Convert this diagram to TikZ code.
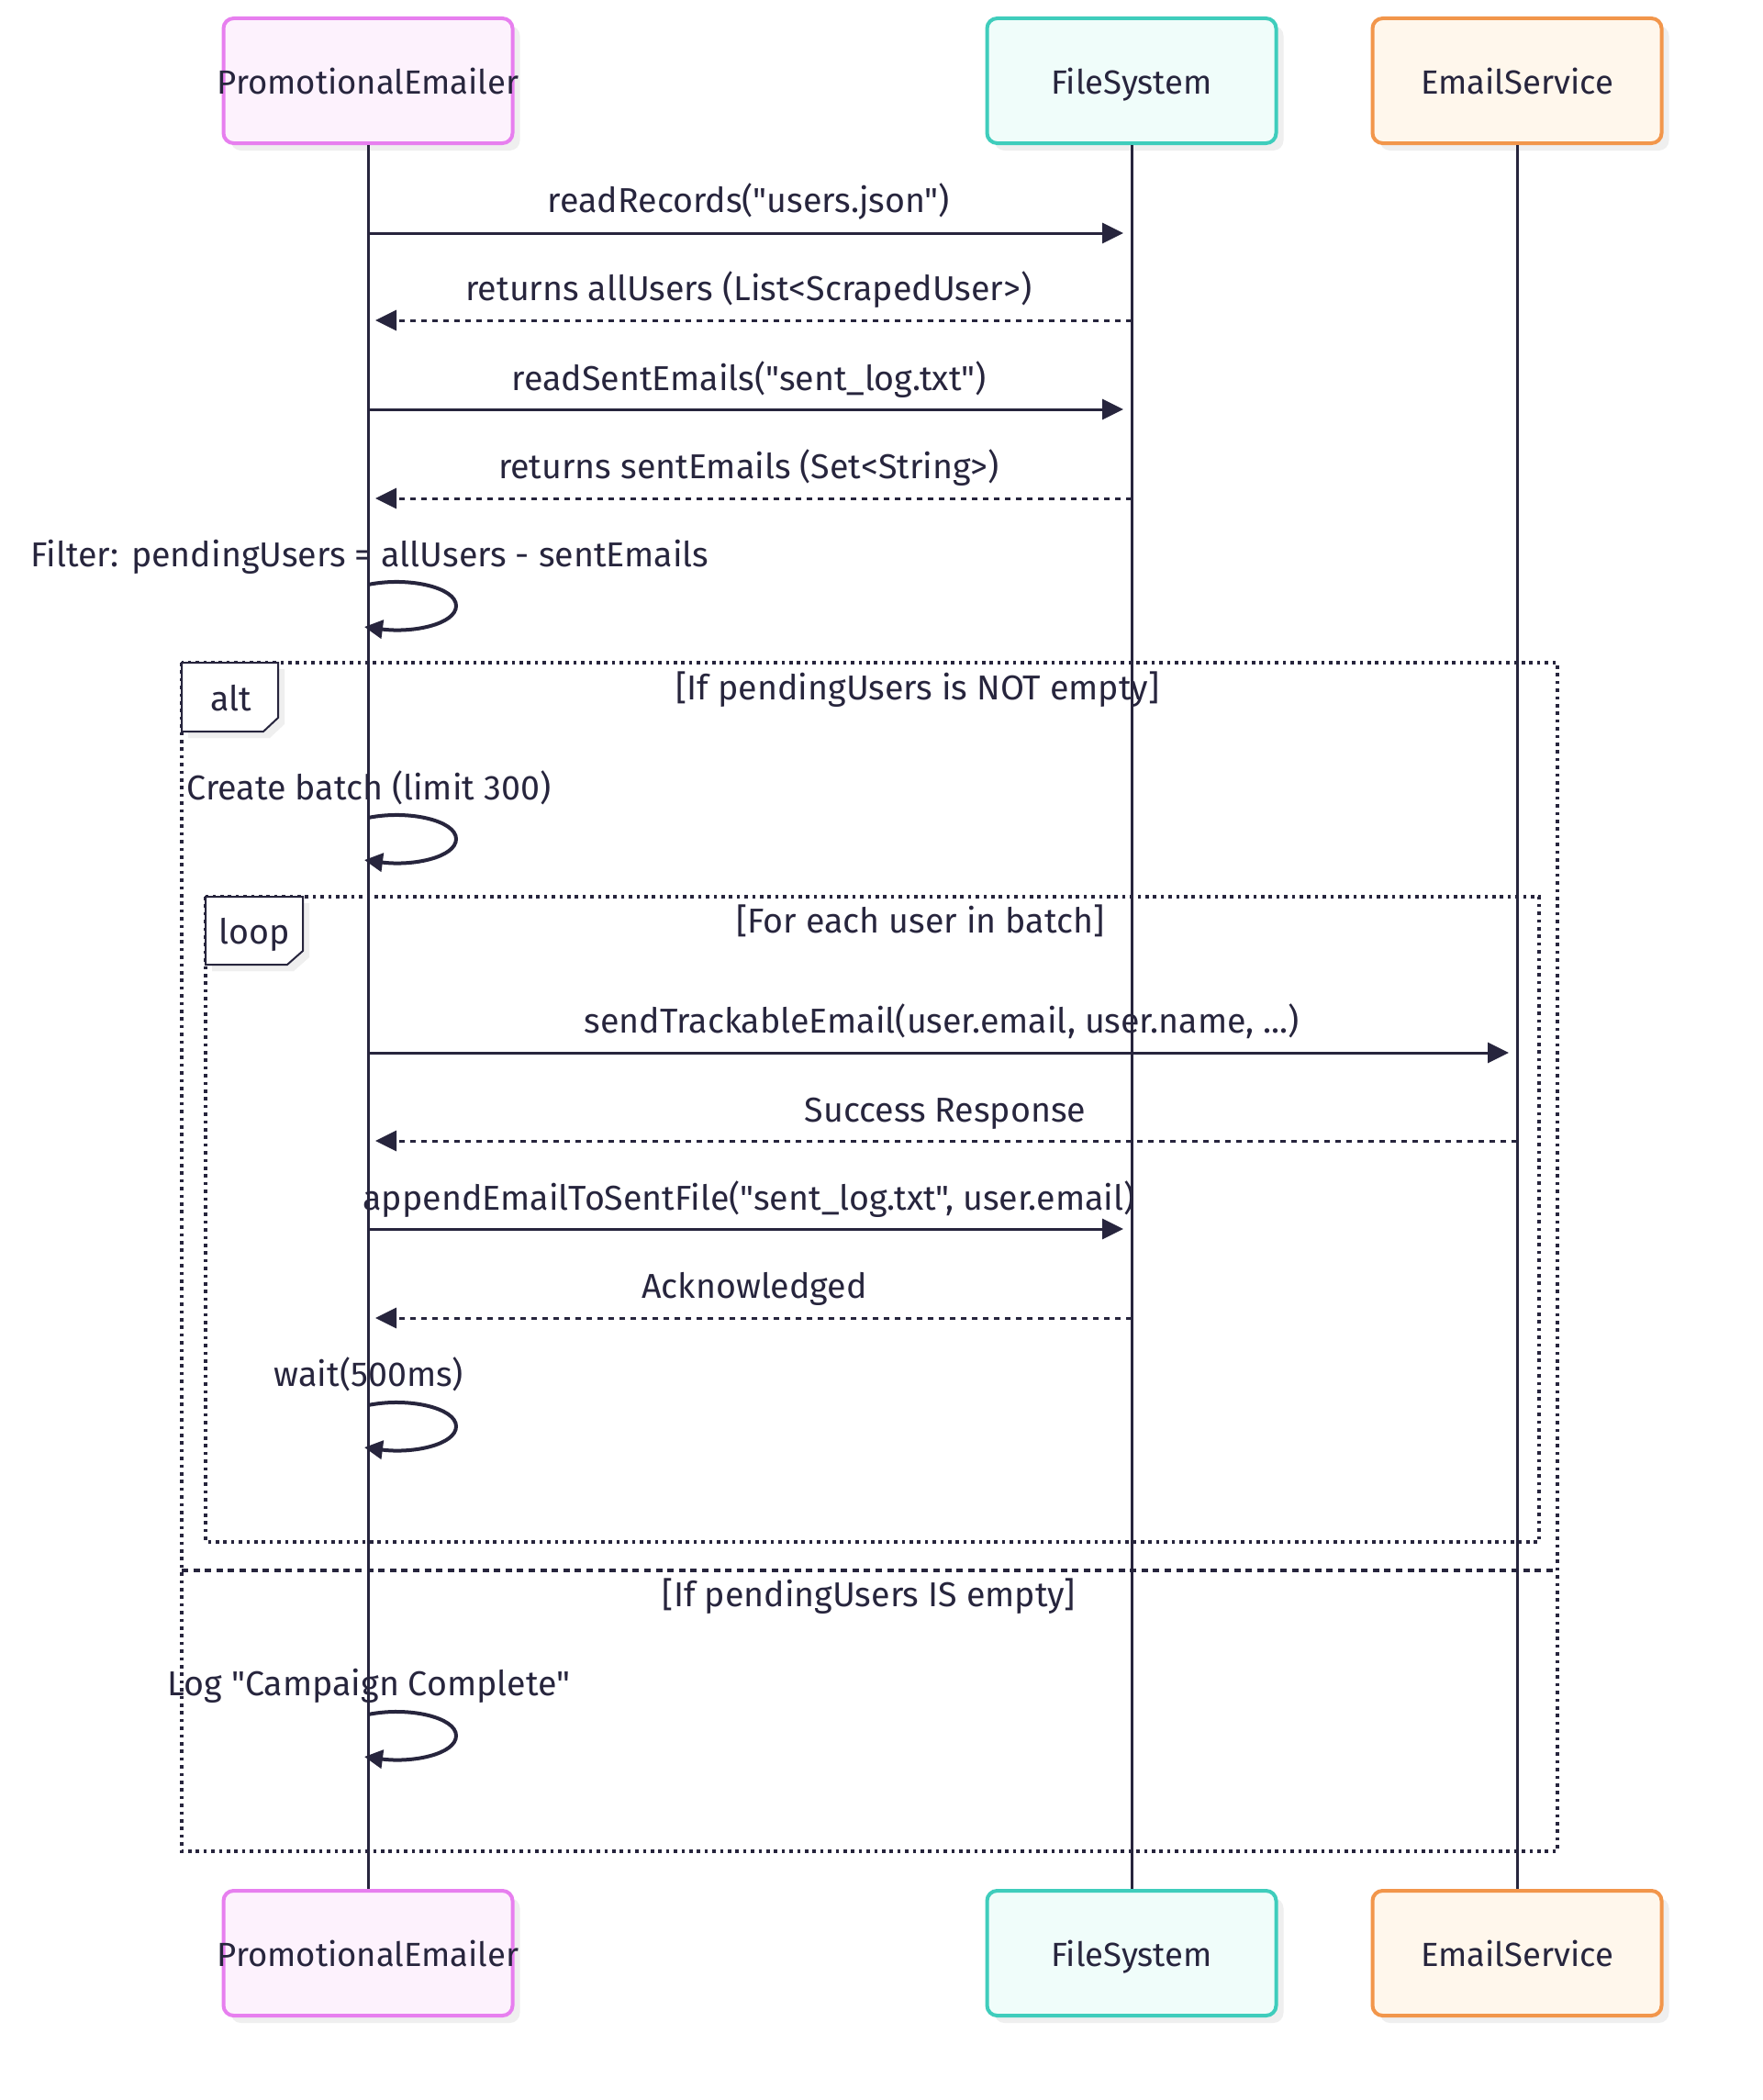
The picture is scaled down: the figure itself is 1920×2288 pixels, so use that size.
\documentclass[tikz,border=0pt]{standalone}
\usepackage{fontspec}
\setmainfont{Fira Sans}[Ligatures=TeXOff]
\usetikzlibrary{arrows.meta,shadows}
\definecolor{ink}{HTML}{27253D}
\definecolor{pkline}{HTML}{E77FEF}
\definecolor{pkfill}{HTML}{FDF2FD}
\definecolor{tlline}{HTML}{3FCDBC}
\definecolor{tlfill}{HTML}{F0FDFA}
\definecolor{orline}{HTML}{F2964B}
\definecolor{orfill}{HTML}{FFF7EC}
\definecolor{shadowgray}{HTML}{EFEFEF}
\newcommand\actortext[1]{\raisebox{-9pt}{\makebox[0pt][c]{#1}}}
\tikzset{
  actorbox/.style={rounded corners=11pt, line width=4pt, minimum width=315pt, minimum height=136pt,
    text=ink, inner sep=0pt, text height=1.3em, text depth=0.15em,
    font=\fontsize{36.5}{44}\selectfont,
    drop shadow={shadow xshift=8pt, shadow yshift=-8pt, fill=shadowgray, opacity=1}},
  lifeline/.style={draw=ink, line width=3pt},
  msg/.style={draw=ink, line width=3pt, -{Triangle[length=23pt,width=22pt]}},
  retmsg/.style={draw=ink, line width=3pt, dash pattern=on 6.5pt off 5.5pt, -{Triangle[length=23pt,width=22pt]}},
  selfmsg/.style={draw=ink, line width=4pt, -{Triangle[length=20pt,width=20pt]}},
  msgtext/.style={text=ink, inner sep=0pt, anchor=center, text height=0.72em, text depth=0.22em, yshift=-10pt},
  frameline/.style={draw=ink, line width=3.6pt, dash pattern=on 3.6pt off 4.8pt},
  elseline/.style={draw=ink, line width=3.4pt, dash pattern=on 7pt off 5.6pt},
  labelbox/.style={draw=ink, line width=2pt, fill=white,
    drop shadow={shadow xshift=7pt, shadow yshift=-7pt, fill=shadowgray, opacity=1}},
}
\begin{document}
\begin{tikzpicture}[x=1pt,y=-1pt, font=\fontsize{37.6}{45}\selectfont]
\useasboundingbox[fill=white] (0,0) rectangle (1920,2288);

% participants
\node[actorbox, draw=pkline, fill=pkfill] (peT) at (401,88) {\actortext{PromotionalEmailer}};
\node[actorbox, draw=tlline, fill=tlfill] (fsT) at (1233,88) {\actortext{FileSystem}};
\node[actorbox, draw=orline, fill=orfill] (esT) at (1653,88) {\actortext{EmailService}};
\node[actorbox, draw=pkline, fill=pkfill] (peB) at (401,2128) {\actortext{PromotionalEmailer}};
\node[actorbox, draw=tlline, fill=tlfill] (fsB) at (1233,2128) {\actortext{FileSystem}};
\node[actorbox, draw=orline, fill=orfill] (esB) at (1653,2128) {\actortext{EmailService}};

% frames
\coordinate (altTL) at (198,722);
\coordinate (altBR) at (1697,2017);
\coordinate (loopTL) at (224,977);
\coordinate (loopBR) at (1677,1680);
\coordinate (elseL) at (198,1711);
\coordinate (elseR) at (1697,1711);
\draw[frameline] (altTL) rectangle (altBR);
\draw[frameline] (loopTL) rectangle (loopBR);
\draw[elseline] (elseL) -- (elseR);

\draw[labelbox] (198,722) -- (303,722) -- (303,782) -- (287,797) -- (198,797) -- cycle;
\node[msgtext] (altlbl) at (252,762) {alt};
\draw[labelbox] (224,977) -- (330,977) -- (330,1036) -- (313,1051) -- (224,1051) -- cycle;
\node[msgtext] (looplbl) at (277,1016) {loop};

\node[msgtext] (c1) at (1000,750) {[If pendingUsers is NOT empty]};
\node[msgtext] (c2) at (1003,1004) {[For each user in batch]};
\node[msgtext] (c3) at (947,1738) {[If pendingUsers IS empty]};

% lifelines
\draw[lifeline] (peT.south) -- (peB.north);
\draw[lifeline] (fsT.south) -- (fsB.north);
\draw[lifeline] (esT.south) -- (esB.north);

% message anchors
\coordinate (pe1) at (400,254);  \coordinate (fs1) at (1224,254);
\coordinate (fs2) at (1233,349); \coordinate (pe2) at (409,349);
\coordinate (pe3) at (400,446);  \coordinate (fs3) at (1224,446);
\coordinate (fs4) at (1233,543); \coordinate (pe4) at (409,543);
\coordinate (pe9) at (400,1147); \coordinate (es9) at (1644,1147);
\coordinate (es10) at (1653,1243); \coordinate (pe10) at (409,1243);
\coordinate (pe11) at (400,1339); \coordinate (fs11) at (1224,1339);
\coordinate (fs12) at (1233,1436); \coordinate (pe12) at (409,1436);

\draw[msg] (pe1) -- (fs1);
\node[msgtext] (t1) at (816,219) {readRecords("users.json")};
\draw[retmsg] (fs2) -- (pe2);
\node[msgtext] (t2) at (816,315) {returns allUsers (List<ScrapedUser>)};
\draw[msg] (pe3) -- (fs3);
\node[msgtext] (t3) at (816,413) {readSentEmails("sent\_log.txt")};
\draw[retmsg] (fs4) -- (pe4);
\node[msgtext] (t4) at (816,509) {returns sentEmails (Set<String>)};

\node[msgtext] (t5) at (403,605) {Filter: pendingUsers = allUsers - sentEmails};
\coordinate (s5a) at (401,637); \coordinate (s5b) at (397,683);
\draw[selfmsg] (s5a) .. controls (445,628) and (497,640) .. (497,660) .. controls (497,680) and (450,690) .. (s5b);

\node[msgtext] (t6) at (402,859) {Create batch (limit 300)};
\coordinate (s6a) at (401,891); \coordinate (s6b) at (397,937);
\draw[selfmsg] (s6a) .. controls (445,882) and (497,894) .. (497,914) .. controls (497,934) and (450,944) .. (s6b);

\draw[msg] (pe9) -- (es9);
\node[msgtext] (t9) at (1026,1113) {sendTrackableEmail(user.email, user.name, ...)};
\draw[retmsg] (es10) -- (pe10);
\node[msgtext] (t10) at (1030,1210) {Success Response};
\draw[msg] (pe11) -- (fs11);
\node[msgtext] (t11) at (816,1306) {appendEmailToSentFile("sent\_log.txt", user.email)};
\draw[retmsg] (fs12) -- (pe12);
\node[msgtext] (t12) at (822,1402) {Acknowledged};

\node[msgtext] (t13) at (402,1498) {wait(500ms)};
\coordinate (s13a) at (401,1531); \coordinate (s13b) at (397,1577);
\draw[selfmsg] (s13a) .. controls (445,1522) and (497,1534) .. (497,1554) .. controls (497,1574) and (450,1584) .. (s13b);

\node[msgtext] (t15) at (402,1835) {Log "Campaign Complete"};
\coordinate (s15a) at (401,1868); \coordinate (s15b) at (397,1914);
\draw[selfmsg] (s15a) .. controls (445,1859) and (497,1871) .. (497,1891) .. controls (497,1911) and (450,1921) .. (s15b);
\end{tikzpicture}
\end{document}
